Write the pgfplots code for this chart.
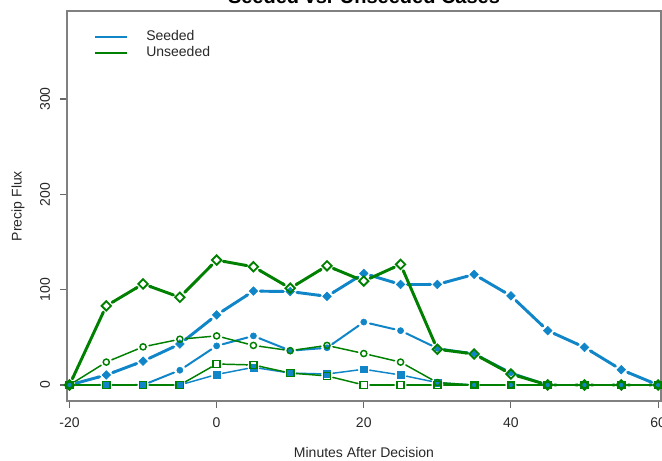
\documentclass[border=0pt]{standalone}
\usepackage{fontspec}
\setmainfont{Liberation Sans}
\usepackage{pgfplots}
\pgfplotsset{compat=1.18}
\usepackage{pgfplotstable}
\usetikzlibrary{arrows.meta}
\definecolor{cblue}{RGB}{16,134,200}
\definecolor{cgreen}{RGB}{0,128,0}
\definecolor{boxgray}{RGB}{128,128,128}
\definecolor{txt}{RGB}{40,40,40}

\pgfplotstableread{
x   SD    SDn   SC   SCn  SS   SSn  UD    UDn   UC   UCn  US  USn
-20 0     10.5  0    0    0    0    0     83    0    24   0   0
-15 10.5  25    0    0    0    0    83    106   24   40   0   0
-10 25    43    0    15.5 0    0    106   92    40   48   0   0
-5  43    73.5  15.5 41   0    11   92    131   48   51.5 0   22
0   73.5  98.5  41   51.5 11   18.5 131   124   51.5 41.5 22  21
5   98.5  98    51.5 36   18.5 12.5 124   101.5 41.5 36   21  12.5
10  98    93    36   39   12.5 11.5 101.5 125   36   41.5 12.5 9.5
15  93    117   39   66   11.5 16.5 125   109   41.5 33   9.5 0
20  117   105.5 66   57   16.5 10.5 109   126.5 33   24   0   0
25  105.5 105.5 57   38.5 10.5 2.5  126.5 37.5  24   2.5  0   0
30  105.5 116   38.5 33   2.5  0    37.5  32.5  2.5  0    0   0
35  116   93.5  33   13   0    0    32.5  11.5  0    0    0   0
40  93.5  57    13   0    0    0    11.5  0     0    0    0   0
45  57    39.5  0    0    0    0    0     0     0    0    0   0
50  39.5  16    0    0    0    0    0     0     0    0    0   0
55  16    0     0    0    0    0    0     0     0    0    0   0
60  0     0     0    0    0    0    0     0     0    0    0   0
}\data

\pgfplotsset{gapseg/.style={line cap=round, forget plot, skip coords between index={16}{17},
  quiver={u=5, v=\thisrow{#1n}-\thisrow{#1},
    every arrow/.append style={{Round Cap[]}-{Round Cap[]}, shorten <=4pt, shorten >=4pt}}}}

\begin{document}
\begin{tikzpicture}
\begin{axis}[name=ax, at={(0,0)}, anchor=south west,
  scale only axis, width=445.5pt, height=292.5pt,
  xmin=-20.34, xmax=60.4, ymin=-16.8, ymax=392.3,
  xtick={-20,0,20,40,60}, ytick={0,100,200,300},
  tick pos=left, tick align=outside, major tick length=5.25pt,
  axis line style={boxgray, line width=1.1pt},
  tick style={boxgray!80!black, line width=0.8pt},
  /pgf/number format/assume math mode=true,
  ticklabel style={font=\fontsize{10.5}{12}\selectfont, text=txt},
  xticklabel style={anchor=center, yshift=-11.25pt},
  yticklabel style={rotate=90, anchor=center, yshift=11.25pt},
  label style={font=\fontsize{10.5}{12}\selectfont, text=txt},
  xlabel={Minutes After Decision},
  ylabel={Precip Flux},
  xlabel style={at={(axis description cs:0.5,0)}, anchor=center, yshift=-38.25pt},
  ylabel style={at={(axis description cs:0,0.5)}, anchor=center, yshift=36.75pt},
  clip=false,
  scaled ticks=false,
]
% ---- Seeded (blue) ----
\addplot[cblue, line width=2.2pt, gapseg=SD] table[x=x, y=SD] {\data};
\addplot[only marks, mark=square*, mark size=2.3pt, mark options={rotate=45, cblue, fill=cblue}, forget plot]
  table[x=x, y=SD] {\data};

\addplot[cblue, line width=1.5pt, gapseg=SC] table[x=x, y=SC] {\data};
\addplot[only marks, mark=*, mark size=2.3pt, mark options={cblue, fill=cblue}, forget plot]
  table[x=x, y=SC] {\data};

\addplot[cblue, line width=1.1pt, gapseg=SS] table[x=x, y=SS] {\data};
\addplot[only marks, mark=square*, mark size=2.6pt, mark options={cblue, fill=cblue}, forget plot]
  table[x=x, y=SS] {\data};

% ---- Unseeded (green) ----
\addplot[cgreen, line width=2.2pt, gapseg=UD] table[x=x, y=UD] {\data};
\addplot[only marks, mark=square, mark size=2.5pt, mark options={rotate=45, cgreen, line width=1.4pt}, forget plot]
  table[x=x, y=UD] {\data};

\addplot[cgreen, line width=1.1pt, gapseg=UC] table[x=x, y=UC] {\data};
\addplot[only marks, mark=o, mark size=2.3pt, mark options={cgreen, line width=1.1pt}, forget plot]
  table[x=x, y=UC] {\data};

\addplot[cgreen, line width=1.1pt, gapseg=US] table[x=x, y=US] {\data};
\addplot[only marks, mark=square, mark size=2.7pt, mark options={cgreen, line width=1.2pt}, forget plot]
  table[x=x, y=US] {\data};
\end{axis}
% legend
\draw[cblue, line width=0.8pt] ([xshift=21pt, yshift=-19.5pt]ax.north west) -- ++(24pt,0);
\draw[cgreen, line width=0.8pt] ([xshift=21pt, yshift=-31.5pt]ax.north west) -- ++(24pt,0);
\node[anchor=mid west, inner sep=0pt, text=txt, font=\fontsize{10.5}{12}\selectfont] at ([xshift=59.25pt, yshift=-19.5pt]ax.north west) {Seeded};
\node[anchor=mid west, inner sep=0pt, text=txt, font=\fontsize{10.5}{12}\selectfont] at ([xshift=59.25pt, yshift=-31.5pt]ax.north west) {Unseeded};
% title
\node[anchor=base, inner sep=0pt, font=\bfseries\fontsize{15}{18}\selectfont] at ([yshift=5.5pt]ax.north) {Seeded vs. Unseeded Cases};
\pgfresetboundingbox
\useasboundingbox (-50.25pt,-45pt) rectangle (446.25pt,300.75pt);
\end{tikzpicture}
\end{document}
